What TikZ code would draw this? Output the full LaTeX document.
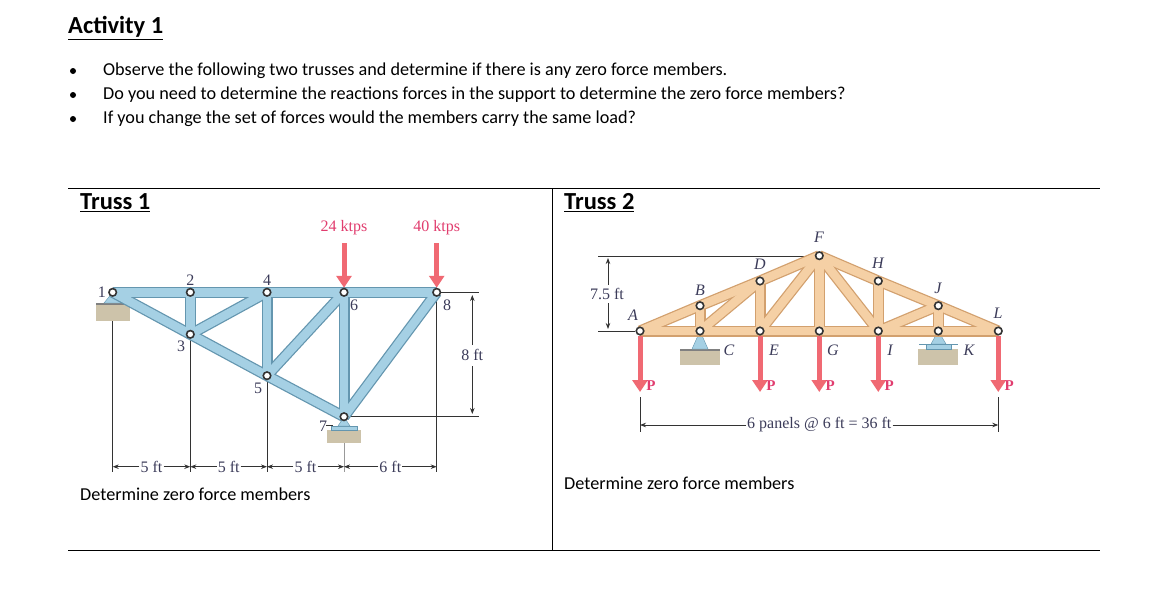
\documentclass[tikz,border=0pt]{standalone}
\usepackage{fontspec}
\setmainfont{Carlito}
\newfontfamily\serf{Liberation Serif}
\usetikzlibrary{arrows.meta}
\definecolor{bluem}{RGB}{165,208,228}
\definecolor{bluee}{RGB}{100,150,175}
\definecolor{woodm}{RGB}{245,208,165}
\definecolor{woode}{RGB}{210,160,110}
\definecolor{loadc}{RGB}{240,105,115}
\definecolor{loadt}{RGB}{225,60,110}
\definecolor{groundc}{RGB}{205,195,170}
\definecolor{labc}{RGB}{60,60,90}
\tikzset{
 jnt/.style={circle,draw=black!80,fill=white,line width=1.6pt,inner sep=0pt,minimum size=7.5pt},
 bmem/.style={line width=11pt,bluee},
 bmemin/.style={line width=8.5pt,bluem},
 wmem/.style={line width=11pt,woode},
 wmemin/.style={line width=8.5pt,woodm},
 load/.style={draw=loadc,line width=5pt,-{Triangle[length=12pt,width=15pt]}},
 dim/.style={draw=black!80,line width=0.8pt},
 lab/.style={font=\serf\fontsize{16}{16}\selectfont,text=labc,inner sep=1pt},
 ilab/.style={font=\serf\itshape\fontsize{16}{16}\selectfont,text=labc,inner sep=1pt},
 body/.style={font=\fontsize{18.2}{20}\selectfont,anchor=west,inner sep=0pt},
 head/.style={font=\bfseries\fontsize{24.5}{26}\selectfont,anchor=west,inner sep=0pt},
 ground/.style={fill=groundc,draw=none},
}
\begin{document}
\begin{tikzpicture}[x=1pt,y=-1pt]
\useasboundingbox (0,0) rectangle (1170,597);
\fill[white] (0,0) rectangle (1170,597);
% header text
\node[head] (title) at (68,28) {\underline{Activity 1}};
\foreach \yy/\tt [count=\i] in {71/{Observe the following two trusses and determine if there is any zero force members.},95/{Do you need to determine the reactions forces in the support to determine the zero force members?},119/{If you change the set of forces would the members carry the same load?}}{
 \fill (73,\yy) circle (3);
 \node[body] (b\i) at (103,\yy) {\tt};
}
% table
\draw[line width=0.8pt] (68,188) -- (1100,188);
\draw[line width=0.8pt] (68,550) -- (1100,550);
\draw[line width=0.8pt] (552,188) -- (552,550);
\node[head] (t1) at (80,203) {\underline{Truss 1}};
\node[head] (t2) at (564,203) {\underline{Truss 2}};
\node[body] (d1) at (80,494) {Determine zero force members};
\node[body] (d2) at (564,483) {Determine zero force members};

% ===== Truss 1 =====
\coordinate (n1) at (112.7,292.3);
\coordinate (n2) at (190.3,292.3);
\coordinate (n4) at (267,292.3);
\coordinate (n6) at (344,292.3);
\coordinate (n8) at (436.7,292.3);
\coordinate (n3) at (190.3,334.3);
\coordinate (n5) at (267,375.7);
\coordinate (n7) at (344,416.7);
% dimension lines
\draw[dim] (112.7,310) -- (112.7,472);
\draw[dim] (190.3,338) -- (190.3,472);
\draw[dim] (267,380) -- (267,472);
\draw[dim,black!40] (344,440) -- (344,472);
\draw[dim] (436.7,298) -- (436.7,472);
\draw[dim] (440,292.3) -- (479,292.3);
\draw[dim] (349,416.7) -- (479,416.7);
\draw[dim,-{Stealth[length=6pt]}] (472.3,345) -- (472.3,295);
\draw[dim,-{Stealth[length=6pt]}] (472.3,366) -- (472.3,414);
\node[lab] (l8ft) at (472.3,355) {8 ft};
\foreach \a/\b/\t [count=\k] in {112.7/190.3/5 ft,190.3/267/5 ft,267/344/5 ft,344/436.7/6 ft}{
 \node[lab,fill=white] (dm\k) at ({(\a+\b)/2},466.7) {\t};
 \draw[dim,-{Stealth[length=6pt]}] (dm\k.east) -- (\b,466.7);
 \draw[dim,-{Stealth[length=6pt]}] (dm\k.west) -- (\a,466.7);
}
% supports
\fill[ground] (95.7,303) rectangle (130,321);
\fill[black!50] (95.7,303) rectangle (130,304.5);
\filldraw[fill=bluem,draw=bluee] (112.7,292.3) -- (104,303) -- (121.4,303) -- cycle;
\fill[ground] (326.7,430) rectangle (360.7,443);
\filldraw[fill=bluem,draw=bluee] (331,426) rectangle (357,430);
\filldraw[fill=bluem,draw=bluee] (344,416.7) -- (338,426) -- (350,426) -- cycle;
\draw[dim] (326,425) -- (333,425);
% members
\foreach \p/\q in {n1/n2,n2/n4,n4/n6,n6/n8,n1/n3,n3/n5,n5/n7,n2/n3,n3/n4,n4/n5,n5/n6,n6/n7,n7/n8}{\draw[bmem] (\p) -- (\q);}
\foreach \p/\q in {n1/n2,n2/n4,n4/n6,n6/n8,n1/n3,n3/n5,n5/n7,n2/n3,n3/n4,n4/n5,n5/n6,n6/n7,n7/n8}{\draw[bmemin] (\p) -- (\q);}
\foreach \n in {1,...,8}{\node[jnt] (j\n) at (n\n) {};}
\node[lab,anchor=east] (L1) at ([xshift=-1pt]j1.west) {1};
\node[lab,anchor=south] (L2) at ([yshift=1pt]j2.north) {2};
\node[lab,anchor=south] (L4) at ([yshift=1pt]j4.north) {4};
\node[lab] (L6) at (354,305) {6};
\node[lab] (L8) at (447,305) {8};
\node[lab] (L3) at (181,346) {3};
\node[lab] (L5) at (258,388) {5};
\node[lab] (L7) at (323,426) {7};
% loads
\draw[load] (344,243) -- (j6.north);
\draw[load] (436.7,243) -- (j8.north);
\node[lab,text=loadt] (k24) at (344,228) {24 ktps};
\node[lab,text=loadt] (k40) at (436.7,228) {40 ktps};

% ===== Truss 2 =====
\coordinate (A) at (640,331);
\coordinate (C) at (700,331);
\coordinate (E) at (760,331);
\coordinate (G) at (819.3,331);
\coordinate (I) at (878.3,331);
\coordinate (K) at (938.3,331);
\coordinate (L) at (998.3,331);
\coordinate (B) at (700,305.7);
\coordinate (D) at (760,281);
\coordinate (F) at (819.3,255.7);
\coordinate (H) at (878.3,281);
\coordinate (J) at (938.3,305.7);
% 7.5 ft
\draw[dim] (598,256) -- (806,256);
\draw[dim] (598,331) -- (635,331);
\draw[dim,-{Stealth[length=6pt]}] (608,285) -- (608,258);
\draw[dim,-{Stealth[length=6pt]}] (608,303) -- (608,329);
\node[lab] (l75) at (607,294) {7.5 ft};
% supports
\fill[ground] (680,349) rectangle (720,365);
\fill[black!50] (680,349) rectangle (720,350.5);
\filldraw[fill=bluem,draw=bluee] (700,331) -- (692,349) -- (708,349) -- cycle;
\fill[ground] (918,349) rectangle (958,365);
\filldraw[fill=bluem,draw=bluee] (926,344) rectangle (951,349);
\filldraw[fill=bluem,draw=bluee] (938.3,331) -- (931,344) -- (946,344) -- cycle;
\draw[dim,bluee] (919,344) -- (958,344);
% members
\foreach \p/\q in {A/C,C/E,E/G,G/I,I/K,K/L,A/B,B/D,D/F,F/H,H/J,J/L,B/C,C/D,D/E,E/F,F/G,F/I,H/I,I/J,J/K}{\draw[wmem] (\p) -- (\q);}
\foreach \p/\q in {A/C,C/E,E/G,G/I,I/K,K/L,A/B,B/D,D/F,F/H,H/J,J/L,B/C,C/D,D/E,E/F,F/G,F/I,H/I,I/J,J/K}{\draw[wmemin] (\p) -- (\q);}
\foreach \n in {A,B,C,D,E,F,G,H,I,J,K,L}{\node[jnt] (j\n) at (\n) {};}
\node[ilab] (LF) at (819,237) {F};
\node[ilab] (LD) at (760,264) {D};
\node[ilab] (LB) at (700,290) {B};
\node[ilab] (LH) at (878,263) {H};
\node[ilab] (LJ) at (938,288) {J};
\node[ilab] (LL) at (998,313) {L};
\node[ilab] (LA) at (633,315) {A};
\node[ilab] (LC) at (729,350) {C};
\node[ilab] (LE) at (774,350) {E};
\node[ilab] (LG) at (833,350) {G};
\node[ilab] (LI) at (890,350) {I};
\node[ilab] (LK) at (969,350) {K};
% loads
\foreach \n/\xx in {A/640,E/760,G/819.3,I/878.3,L/998.3}{
 \draw[load] (j\n.south) -- (\xx,392);
 \node[lab,text=loadt,font=\serf\bfseries\fontsize{15}{15}\selectfont] (P\n) at (\xx+11,386) {P};
}
% dimension
\draw[dim] (640,397) -- (640,432);
\draw[dim] (998.3,397) -- (998.3,432);
\node[lab,fill=white] (d36) at (819.3,425) {6 panels @ 6 ft = 36 ft};
\draw[dim,-{Stealth[length=6pt]}] (d36.west) -- (640,425);
\draw[dim,-{Stealth[length=6pt]}] (d36.east) -- (998.3,425);
\end{tikzpicture}
\end{document}
